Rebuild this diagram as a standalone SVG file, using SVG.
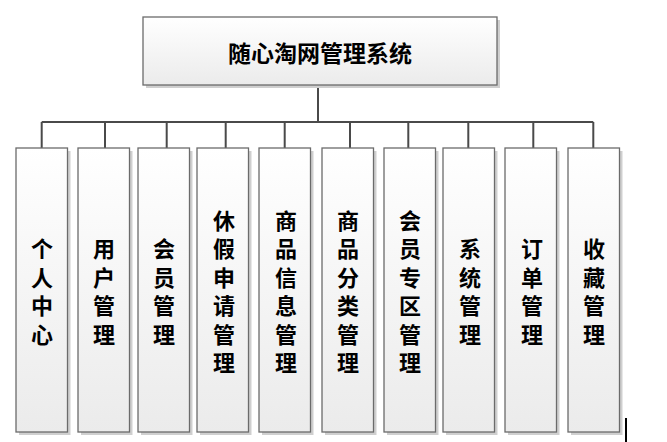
<svg xmlns="http://www.w3.org/2000/svg" width="667" height="442" viewBox="0 0 667 442">
<defs>
<linearGradient id="g" x1="0" y1="0" x2="0" y2="1">
<stop offset="0" stop-color="#ffffff"/>
<stop offset="1" stop-color="#ebebeb"/>
</linearGradient>
<style>
.box{fill:url(#g);stroke:#6b6b6b;stroke-width:1.3}
.sh{fill:#cfcfcf}
.t{font-family:"Noto Sans CJK SC","Noto Sans CJK TC",sans-serif;font-weight:bold;font-size:22px;fill:#000;text-anchor:middle;dominant-baseline:central}
.title{font-size:23px}
.c{fill:none;stroke:#4a4a4a;stroke-width:2}
</style>
</defs>
<rect width="667" height="442" fill="#ffffff"/>
<g id="connectors">
<path class="c" d="M318 85V122M41.7 122H593.3M41.7 122V148M105 122V148M166.7 122V148M225.7 122V148M284.7 122V148M350 122V148M408.3 122V148M468.3 122V148M533.3 122V148M593.3 122V148"/>
</g>
<g id="root">
<rect class="sh" x="146" y="20" width="354" height="68"/>
<rect class="box" x="143" y="17" width="354" height="68"/>
<text class="t title" x="320" y="52">随心淘网管理系统</text>
</g>
<g id="n1">
<rect class="sh" x="19" y="151" width="51.5" height="284"/>
<rect class="box" x="16" y="148" width="51.5" height="284"/>
<text class="t"><tspan x="42" y="247.25">个</tspan><tspan x="42" y="275.75">人</tspan><tspan x="42" y="304.25">中</tspan><tspan x="42" y="332.75">心</tspan></text>
</g>
<g id="n2">
<rect class="sh" x="81" y="151" width="51.5" height="284"/>
<rect class="box" x="78" y="148" width="51.5" height="284"/>
<text class="t"><tspan x="104" y="247.25">用</tspan><tspan x="104" y="275.75">户</tspan><tspan x="104" y="304.25">管</tspan><tspan x="104" y="332.75">理</tspan></text>
</g>
<g id="n3">
<rect class="sh" x="141" y="151" width="51.5" height="284"/>
<rect class="box" x="138" y="148" width="51.5" height="284"/>
<text class="t"><tspan x="164" y="247.25">会</tspan><tspan x="164" y="275.75">员</tspan><tspan x="164" y="304.25">管</tspan><tspan x="164" y="332.75">理</tspan></text>
</g>
<g id="n4">
<rect class="sh" x="200" y="151" width="51.5" height="284"/>
<rect class="box" x="197" y="148" width="51.5" height="284"/>
<text class="t"><tspan x="224" y="218.75">休</tspan><tspan x="224" y="247.25">假</tspan><tspan x="224" y="275.75">申</tspan><tspan x="224" y="304.25">请</tspan><tspan x="224" y="332.75">管</tspan><tspan x="224" y="361.25">理</tspan></text>
</g>
<g id="n5">
<rect class="sh" x="262" y="151" width="51.5" height="284"/>
<rect class="box" x="259" y="148" width="51.5" height="284"/>
<text class="t"><tspan x="286" y="218.75">商</tspan><tspan x="286" y="247.25">品</tspan><tspan x="286" y="275.75">信</tspan><tspan x="286" y="304.25">息</tspan><tspan x="286" y="332.75">管</tspan><tspan x="286" y="361.25">理</tspan></text>
</g>
<g id="n6">
<rect class="sh" x="325" y="151" width="51.5" height="284"/>
<rect class="box" x="322" y="148" width="51.5" height="284"/>
<text class="t"><tspan x="348" y="218.75">商</tspan><tspan x="348" y="247.25">品</tspan><tspan x="348" y="275.75">分</tspan><tspan x="348" y="304.25">类</tspan><tspan x="348" y="332.75">管</tspan><tspan x="348" y="361.25">理</tspan></text>
</g>
<g id="n7">
<rect class="sh" x="387" y="151" width="51.5" height="284"/>
<rect class="box" x="384" y="148" width="51.5" height="284"/>
<text class="t"><tspan x="410" y="218.75">会</tspan><tspan x="410" y="247.25">员</tspan><tspan x="410" y="275.75">专</tspan><tspan x="410" y="304.25">区</tspan><tspan x="410" y="332.75">管</tspan><tspan x="410" y="361.25">理</tspan></text>
</g>
<g id="n8">
<rect class="sh" x="446" y="151" width="51.5" height="284"/>
<rect class="box" x="443" y="148" width="51.5" height="284"/>
<text class="t"><tspan x="470" y="247.25">系</tspan><tspan x="470" y="275.75">统</tspan><tspan x="470" y="304.25">管</tspan><tspan x="470" y="332.75">理</tspan></text>
</g>
<g id="n9">
<rect class="sh" x="508" y="151" width="51.5" height="284"/>
<rect class="box" x="505" y="148" width="51.5" height="284"/>
<text class="t"><tspan x="532" y="247.25">订</tspan><tspan x="532" y="275.75">单</tspan><tspan x="532" y="304.25">管</tspan><tspan x="532" y="332.75">理</tspan></text>
</g>
<g id="n10">
<rect class="sh" x="571" y="151" width="51.5" height="284"/>
<rect class="box" x="568" y="148" width="51.5" height="284"/>
<text class="t"><tspan x="594" y="247.25">收</tspan><tspan x="594" y="275.75">藏</tspan><tspan x="594" y="304.25">管</tspan><tspan x="594" y="332.75">理</tspan></text>
</g>
<line x1="626" y1="418" x2="626" y2="442" stroke="#000" stroke-width="2"/>
</svg>
